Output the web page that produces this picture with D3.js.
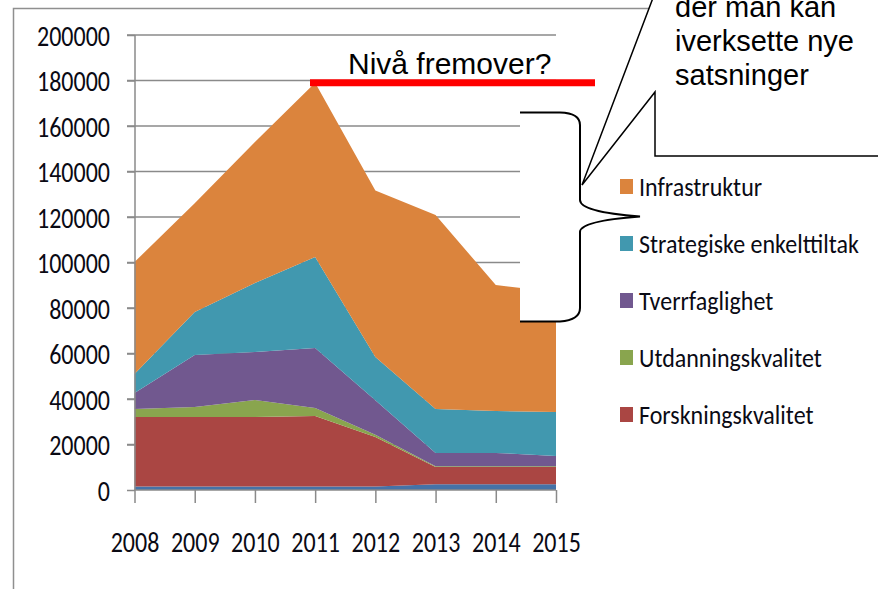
<!DOCTYPE html>
<html>
<head>
<meta charset="utf-8">
<script src="https://cdn.jsdelivr.net/npm/d3@7"></script>
<style>
  html, body { margin: 0; padding: 0; background: #fff; }
  svg { display: block; }
</style>
</head>
<body>
<svg id="chart" width="878" height="589"></svg>
<script>
// years on the x axis
const years = [2008, 2009, 2010, 2011, 2012, 2013, 2014, 2015];

// series values (stacked, bottom to top)
const annet = [1500, 1500, 1500, 1500, 1500, 2500, 2500, 2500];
const forskningskvalitet = [30600, 30600, 30600, 31000, 21800, 7600, 7600, 7600];
const utdanningskvalitet = [3500, 4400, 7500, 3500, 1000, 300, 300, 300];
const tverrfaglighet = [7000, 22800, 21100, 26400, 15200, 5900, 5900, 4600];
const strategiske = [8400, 18900, 30300, 40000, 19000, 19300, 18400, 19300];
const infrastruktur = [49200, 47800, 62000, 76600, 73100, 85300, 55400, 52700];

const seriesNames = ["Annet", "Forskningskvalitet", "Utdanningskvalitet", "Tverrfaglighet", "Strategiske enkelttiltak", "Infrastruktur"];
const seriesColors = ["#4572A7", "#AA4643", "#89A54E", "#71588F", "#4198AF", "#DB843D"];
const legendNames = ["Infrastruktur", "Strategiske enkelttiltak", "Tverrfaglighet", "Utdanningskvalitet", "Forskningskvalitet"];

const yTicks = [0, 20000, 40000, 60000, 80000, 100000, 120000, 140000, 160000, 180000, 200000];
const levelValue = 179000;
const levelLabel = "Nivå fremover?";
const calloutLines = ["der man kan", "iverksette nye", "satsninger"];

const allValues = [annet, forskningskvalitet, utdanningskvalitet, tverrfaglighet, strategiske, infrastruktur];
const rows = years.map((yr, i) => {
  const r = { year: yr };
  seriesNames.forEach((n, k) => (r[n] = allValues[k][i]));
  return r;
});

const svg = d3.select("#chart");
const labelFont = "Carlito, Calibri, Lato, sans-serif";
const arialFont = "'Liberation Sans', Arial, sans-serif";

const x = d3.scaleLinear().domain([2008, 2015]).range([134.5, 556]);
const y = d3.scaleLinear().domain([0, 200000]).range([490, 35]);

// outer frame
svg.append("path")
  .attr("d", "M13.5,589 V8.5 H700")
  .attr("fill", "none")
  .attr("stroke", "#8f8f8f")
  .attr("stroke-width", 1.5);

// gridlines
svg.append("g")
  .selectAll("line")
  .data(yTicks.filter((d) => d > 0))
  .join("line")
  .attr("x1", 127)
  .attr("x2", 556)
  .attr("y1", (d) => y(d))
  .attr("y2", (d) => y(d))
  .attr("stroke", "#8a8a8a")
  .attr("stroke-width", 1.5);

// stacked areas
const stack = d3.stack().keys(seriesNames);
const layers = stack(rows);
const area = d3.area()
  .x((d) => x(d.data.year))
  .y0((d) => y(d[0]))
  .y1((d) => y(d[1]));

svg.append("g")
  .selectAll("path")
  .data(layers)
  .join("path")
  .attr("fill", (d, i) => seriesColors[i])
  .attr("d", area);

// axes
const yAxis = d3.axisLeft(y).tickValues(yTicks).tickSize(8).tickFormat(d3.format("d"));
const gy = svg.append("g").attr("transform", "translate(135,0)").call(yAxis);
gy.select(".domain").attr("stroke", "#8a8a8a").attr("stroke-width", 1.5).attr("d", "M0,35V490");
gy.selectAll(".tick line").attr("stroke", "#8a8a8a").attr("stroke-width", 1.5);
gy.selectAll("text")
  .attr("x", 0)
  .attr("dy", 0)
  .attr("transform", "translate(-25,10) scale(1,1.2)")
  .attr("fill", "#0a0a14")
  .style("font-family", labelFont)
  .style("font-size", "24px");

const xAxis = d3.axisBottom(x).tickValues(years).tickSize(13).tickFormat(d3.format("d"));
const gx = svg.append("g").attr("transform", "translate(0,490)").call(xAxis);
gx.select(".domain").attr("stroke", "#8a8a8a").attr("stroke-width", 1.5).attr("d", "M134.5,0H556");
gx.selectAll(".tick line").attr("stroke", "#8a8a8a").attr("stroke-width", 1.5);
gx.selectAll("text")
  .attr("y", 0)
  .attr("dy", 0)
  .attr("transform", "translate(0,62) scale(1,1.2)")
  .attr("fill", "#0a0a14")
  .style("font-family", labelFont)
  .style("font-size", "24px");

// brace with white backing
svg.append("rect")
  .attr("x", 520).attr("y", 112)
  .attr("width", 60).attr("height", 210)
  .attr("fill", "#fff");
svg.append("path")
  .attr("d", "M520,112.5 H560 Q580,113 580,125 V200 Q580,212 640,216.5 Q580,221 580,232 V308 Q580,320 560,321.5 H520")
  .attr("fill", "none")
  .attr("stroke", "#000")
  .attr("stroke-width", 2);

// callout bubble
svg.append("path")
  .attr("d", "M656,-10 L582,185 L655,92 V156 H900 V-10 Z")
  .attr("fill", "#fff")
  .attr("stroke", "#000")
  .attr("stroke-width", 1.5);
svg.append("g")
  .selectAll("text")
  .data(calloutLines)
  .join("text")
  .attr("x", 675)
  .attr("y", (d, i) => 17 + i * 34)
  .attr("fill", "#000")
  .style("font-family", arialFont)
  .style("font-size", "29px")
  .text((d) => d);

// level line and label
svg.append("line")
  .attr("x1", 310).attr("x2", 595)
  .attr("y1", y(levelValue)).attr("y2", y(levelValue))
  .attr("stroke", "#ff0000")
  .attr("stroke-width", 7);
svg.append("text")
  .attr("x", 348)
  .attr("y", 74)
  .attr("fill", "#000")
  .style("font-family", arialFont)
  .style("font-size", "30px")
  .text(levelLabel);

// legend
const legend = svg.append("g")
  .selectAll("g")
  .data(legendNames)
  .join("g")
  .attr("transform", (d, i) => `translate(620,${188 + i * 57})`);
legend.append("rect")
  .attr("x", 0).attr("y", -9)
  .attr("width", 13).attr("height", 15)
  .attr("fill", (d) => seriesColors[seriesNames.indexOf(d)]);
legend.append("text")
  .attr("x", 0)
  .attr("transform", "translate(19,8) scale(1,1.12)")
  .attr("fill", "#0a0a14")
  .style("font-family", labelFont)
  .style("font-size", "24px")
  .text((d) => d);
</script>
</body>
</html>
